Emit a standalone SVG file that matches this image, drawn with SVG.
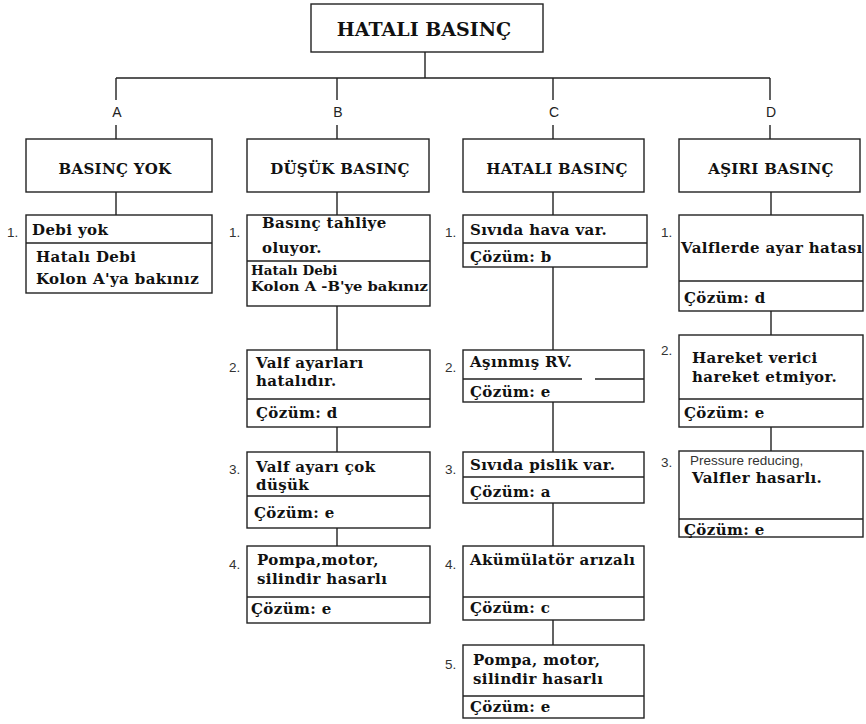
<svg xmlns="http://www.w3.org/2000/svg" width="866" height="724" viewBox="0 0 866 724">
<style>
.bx{fill:#fff;stroke:#222;stroke-width:1.4}
.ln{stroke:#222;stroke-width:1.4;fill:none}
.t{font-family:"DejaVu Serif","Liberation Serif",serif;font-weight:bold;font-size:15px;letter-spacing:0.4px;fill:#111}
.tc{font-family:"DejaVu Serif","Liberation Serif",serif;font-weight:bold;font-size:13.5px;fill:#111}
.h{font-family:"DejaVu Serif","Liberation Serif",serif;font-weight:bold;font-size:15px;letter-spacing:0.3px;fill:#111;text-anchor:middle}
.ti{font-family:"DejaVu Serif","Liberation Serif",serif;font-weight:bold;font-size:19px;fill:#111;text-anchor:middle}
.s{font-family:"Liberation Sans",Arial,sans-serif;font-size:13.5px;fill:#333}
.l{font-family:"Liberation Sans",Arial,sans-serif;font-size:14px;fill:#222;text-anchor:middle}
</style>
<rect width="866" height="724" fill="#fff"/>
<g id="connectors">
<path class="ln" d="M425 52V78M116 78H770M116 78V100M337 78V100M553 78V100M770 78V100M116 125V139M337 125V139M553 125V139M770 125V139"/>
<path class="ln" d="M116 192V215M337 192V215M553 192V215M771 192V215"/>
<path class="ln" d="M337 306V350M337 427V452M337 528V546"/>
<path class="ln" d="M553 267V350M553 402V452M553 503V546M553 620V645"/>
<path class="ln" d="M771 311V335M771 427V451"/>
</g>
<g id="labels">
<text class="l" x="117" y="117">A</text>
<text class="l" x="338" y="117">B</text>
<text class="l" x="554" y="117">C</text>
<text class="l" x="771" y="117">D</text>
</g>
<g id="root">
<rect class="bx" x="311" y="4" width="232" height="48"/>
<text class="ti" x="424" y="36">HATALI BASINÇ</text>
</g>
<g id="headA"><rect class="bx" x="26" y="139" width="186" height="53"/><text class="h" x="115" y="174">BASINÇ YOK</text></g>
<g id="headB"><rect class="bx" x="247" y="139" width="182" height="53"/><text class="h" x="340" y="174">DÜŞÜK BASINÇ</text></g>
<g id="headC"><rect class="bx" x="463" y="139" width="181" height="53"/><text class="h" x="557" y="174">HATALI BASINÇ</text></g>
<g id="headD"><rect class="bx" x="679" y="139" width="181" height="53"/><text class="h" x="771" y="174">AŞIRI BASINÇ</text></g>

<g id="A1"><rect class="bx" x="26" y="215" width="186" height="78"/><path class="ln" d="M26 243H212"/>
<text class="s" x="7" y="237">1.</text>
<text class="t" x="32" y="235">Debi yok</text>
<text class="t" x="36" y="262">Hatalı Debi</text>
<text class="t" x="36" y="284">Kolon A'ya bakınız</text></g>

<g id="B1"><rect class="bx" x="247" y="215" width="183" height="91"/><path class="ln" d="M247 261H430"/>
<text class="s" x="229" y="237">1.</text>
<text class="t" x="262" y="228">Basınç tahliye</text>
<text class="t" x="262" y="253">oluyor.</text>
<text class="tc" x="251" y="275">Hatalı Debi</text>
<text class="tc" x="251" y="291" textLength="177" lengthAdjust="spacingAndGlyphs">Kolon A -B'ye bakınız</text></g>

<g id="B2"><rect class="bx" x="247" y="350" width="183" height="77"/><path class="ln" d="M247 399H430"/>
<text class="s" x="229" y="372">2.</text>
<text class="t" x="256" y="368">Valf ayarları</text>
<text class="t" x="256" y="386">hatalıdır.</text>
<text class="t" x="256" y="418">Çözüm: d</text></g>

<g id="B3"><rect class="bx" x="247" y="452" width="183" height="76"/><path class="ln" d="M247 496H430"/>
<text class="s" x="229" y="474">3.</text>
<text class="t" x="256" y="472">Valf ayarı çok</text>
<text class="t" x="256" y="490">düşük</text>
<text class="t" x="254" y="518">Çözüm: e</text></g>

<g id="B4"><rect class="bx" x="247" y="546" width="183" height="77"/><path class="ln" d="M247 597H430"/>
<text class="s" x="229" y="569">4.</text>
<text class="t" x="257" y="565">Pompa,motor,</text>
<text class="t" x="257" y="584">silindir hasarlı</text>
<text class="t" x="251" y="614">Çözüm: e</text></g>

<g id="C1"><rect class="bx" x="463" y="215" width="184" height="52"/><path class="ln" d="M463 243H647"/>
<text class="s" x="445" y="237">1.</text>
<text class="t" x="470" y="235">Sıvıda hava var.</text>
<text class="t" x="470" y="262">Çözüm: b</text></g>

<g id="C2"><rect class="bx" x="463" y="350" width="181" height="52"/><path class="ln" d="M463 379H582M595 379H644"/>
<text class="s" x="445" y="372">2.</text>
<text class="t" x="470" y="367">Aşınmış RV.</text>
<text class="t" x="470" y="397">Çözüm: e</text></g>

<g id="C3"><rect class="bx" x="463" y="452" width="181" height="51"/><path class="ln" d="M463 477H644"/>
<text class="s" x="445" y="474">3.</text>
<text class="t" x="470" y="470">Sıvıda pislik var.</text>
<text class="t" x="470" y="497">Çözüm: a</text></g>

<g id="C4"><rect class="bx" x="463" y="546" width="181" height="74"/><path class="ln" d="M463 597H644"/>
<text class="s" x="445" y="569">4.</text>
<text class="t" x="470" y="565">Akümülatör arızalı</text>
<text class="t" x="470" y="613">Çözüm: c</text></g>

<g id="C5"><rect class="bx" x="463" y="645" width="181" height="73"/><path class="ln" d="M463 696H644"/>
<text class="s" x="445" y="669">5.</text>
<text class="t" x="473" y="665">Pompa, motor,</text>
<text class="t" x="473" y="684">silindir hasarlı</text>
<text class="t" x="470" y="712">Çözüm: e</text></g>

<g id="D1"><rect class="bx" x="679" y="215" width="184" height="96"/><path class="ln" d="M679 281H863"/>
<text class="s" x="661" y="237">1.</text>
<text class="t" x="681" y="253">Valflerde ayar hatası</text>
<text class="t" x="684" y="303">Çözüm: d</text></g>

<g id="D2"><rect class="bx" x="679" y="335" width="184" height="92"/><path class="ln" d="M679 399H863"/>
<text class="s" x="661" y="355">2.</text>
<text class="t" x="692" y="363">Hareket verici</text>
<text class="t" x="692" y="382">hareket etmiyor.</text>
<text class="t" x="684" y="418">Çözüm: e</text></g>

<g id="D3"><rect class="bx" x="679" y="451" width="184" height="86"/><path class="ln" d="M679 519H863"/>
<text class="s" x="661" y="467">3.</text>
<text class="s" x="690" y="465">Pressure reducing,</text>
<text class="t" x="692" y="483">Valfler hasarlı.</text>
<text class="t" x="684" y="535">Çözüm: e</text></g>
</svg>
